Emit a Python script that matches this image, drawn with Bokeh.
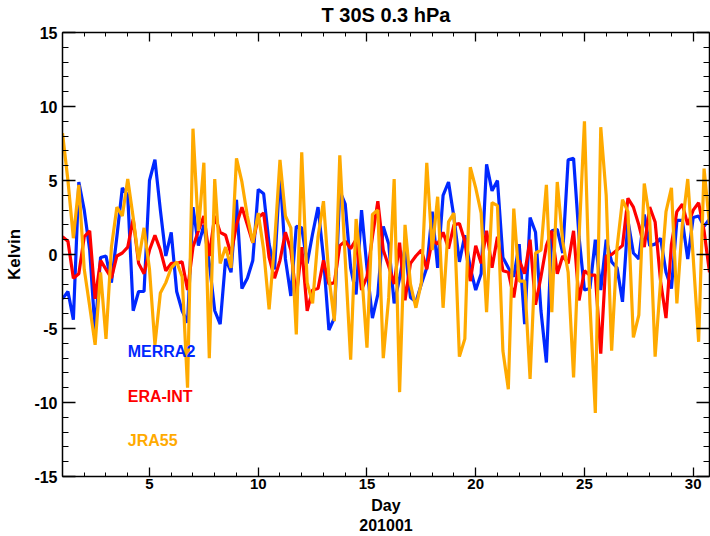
import numpy as np
from bokeh.plotting import figure
from bokeh.models import Range1d, LinearAxis, FixedTicker, Label
from bokeh.embed import file_html
from bokeh.resources import INLINE

# ---- data (6-hourly, January 2010) ----
day_start = 1.0
step = 0.25
n_points = 120
days = day_start + step * np.arange(n_points)

merra2 = [-3.0, -2.5, -4.4, 4.9, 3.0, 0.3, -5.2, -0.2, -0.1, -1.9,
          1.2, 4.5, 4.0, -3.8, -2.5, -2.5, 5.0, 6.4, 3.0, -0.1,
          1.5, -2.5, -3.8, -4.6, 3.2, 0.6, 2.0, -0.6, -3.8, -4.7,
          -0.3, -1.2, 3.7, -2.3, -1.6, -0.4, 4.4, 4.1, 0.7, -1.0,
          5.6, -0.3, -2.8, 1.9, 1.8, -0.6, 1.4, 3.2, -0.2, -5.1,
          -4.3, 4.3, 3.4, -0.9, -2.7, 3.0, -0.9, -4.3, -2.7, 1.9,
          0.7, -3.3, -1.6, 0.5, -2.9, -3.2, -2.0, -0.9, 2.9, -0.9,
          4.0, 4.9, 2.5, -0.5, 1.3, -0.9, -2.4, -1.3, 6.1, 4.3,
          5.0, -0.2, -0.9, -1.5, 0.7, -4.7, 2.5, 1.5, -3.8, -7.3,
          1.6, 1.7, 0.1, 6.4, 6.5, 1.2, -2.4, -2.3, 1.0, -2.4,
          1.0, -0.5, -0.9, -3.2, 2.3, 0.1, -0.3, 2.7, 0.6, 0.7,
          1.1, -1.2, -2.3, 2.3, 2.3, -0.3, 2.5, 2.6, 1.9, 2.4]

era_int = [1.2, 0.9, -1.6, -1.3, 1.2, 1.6, -3.0, -0.4, -1.0, -1.6,
           -0.1, 0.1, 0.5, 2.4, -0.6, -1.3, 0.3, 1.3, 0.3, -1.1,
           -0.6, -0.6, -0.5, -2.4, 0.5, 1.6, 2.6, -0.1, 2.6, 1.5,
           1.3, 0.0, 2.0, 3.2, 2.0, 0.8, 2.5, 2.8, -0.2, -1.6,
           -0.4, 1.5, 0.3, -2.9, 0.5, -3.8, -2.4, -2.3, -0.4, -2.0,
           -1.9, 0.6, 0.9, 0.4, 1.0, -2.4, -1.5, 1.2, 3.6, 0.3,
           -0.8, -2.0, 0.8, -3.1, -0.6, -0.1, 0.3, -1.0, 1.0, 0.7,
           1.5, 0.4, 2.0, 2.1, 0.9, -1.8, 0.6, -0.6, 1.6, -0.9,
           1.2, -1.1, -1.2, -2.9, -0.4, -1.3, 1.0, -3.4, -1.5, 0.6,
           1.6, -1.3, -0.1, -0.6, 1.6, -3.1, -1.1, -1.4, -1.4, -6.7,
           -0.1, 0.0, 0.3, 0.6, 3.8, 3.2, 2.0, 0.5, 3.2, 2.2,
           -1.8, -4.3, 0.7, 2.9, 3.4, 2.0, 3.0, 3.5, 1.6, -1.2]

jra55 = [8.2, 5.0, 1.1, 4.7, -1.0, -3.5, -6.1, -1.2, -5.7, 0.5,
         3.2, 2.6, 5.1, 2.5, -0.4, 1.8, -1.0, -6.1, -2.6, -1.9,
         -0.9, -0.5, -1.5, -9.0, 8.5, 1.6, 6.2, -7.0, 5.1, -0.6,
         0.5, -0.9, 6.5, 4.9, 2.6, 0.8, 2.8, 0.3, -3.7, 0.7,
         6.4, 2.6, 1.8, -5.4, 6.9, -1.9, -3.3, 1.2, 3.6, -1.5,
         -4.5, 6.7, -0.3, -7.1, 2.4, -1.1, -6.3, 2.7, 3.0, -7.0,
         -2.9, 5.1, -9.3, 2.0, -2.0, -3.6, -1.9, 6.2, 0.3, 3.9,
         -3.6, 2.2, 2.8, -6.9, -5.7, 5.9, 4.5, 2.8, -3.9, 3.5,
         3.3, -6.5, -9.1, 3.1, -1.8, -1.8, -8.4, 0.1, 0.3, 4.7,
         -3.9, 4.9, 0.9, -1.2, -8.3, 1.1, 9.0, -3.3, -10.7, 8.6,
         4.0, -6.5, 0.5, 3.7, 2.9, -5.6, -4.1, 4.8, 2.4, -6.9,
         -1.8, 2.9, 4.5, -3.3, 2.0, 5.1, -0.2, -5.9, 5.8, 2.0]

series_names = ["MERRA2", "ERA-INT", "JRA55"]
series_colors = ["#0028ff", "#ff0000", "#ffaa00"]

x_major = [5, 10, 15, 20, 25, 30]
x_minor = list(range(1, 31))
y_major = [-15, -10, -5, 0, 5, 10, 15]
y_minor = list(range(-15, 16))
y_tick_text = {v: str(v) for v in y_major}   # plain hyphen minus, as in the reference
x_title = "Day"
month_text = "201001"

FONT = "Liberation Sans"

p = figure(width=710, height=536,
           x_range=Range1d(1, 30.75), y_range=Range1d(-15, 15),
           output_backend="svg", toolbar_location=None,
           min_border_left=62, min_border_right=1,
           min_border_top=32, min_border_bottom=60,
           x_axis_label=x_title + "\n" + month_text, y_axis_label="Kelvin")

p.title.text = "T 30S 0.3 hPa"
p.title.align = "center"
p.title.standoff = 0
p.title.text_font = FONT
p.title.text_font_size = "20px"
p.title.text_font_style = "bold"
p.title.text_color = "black"

p.xgrid.visible = False
p.ygrid.visible = False
p.outline_line_color = None
p.background_fill_color = "white"
p.border_fill_color = "white"

top_axis = LinearAxis()
right_axis = LinearAxis()
p.add_layout(top_axis, "above")
p.add_layout(right_axis, "right")

# invisible spacer between the top axis and the title (reserves room via outward ticks)
spacer = LinearAxis(ticker=FixedTicker(ticks=x_major, minor_ticks=[]),
                    axis_line_color=None, major_tick_line_color=None,
                    minor_tick_line_color=None, major_tick_in=0, major_tick_out=7,
                    minor_tick_in=0, minor_tick_out=0, major_label_text_color=None,
                    major_label_text_font_size="0px", major_label_standoff=0)
p.add_layout(spacer, "above")

def style(ax, is_x, labels):
    ax.ticker = FixedTicker(ticks=x_major if is_x else y_major,
                            minor_ticks=x_minor if is_x else y_minor)
    ax.axis_line_color = "black"
    ax.axis_line_width = 1.5
    ax.major_tick_line_color = "black"
    ax.minor_tick_line_color = "black"
    ax.major_tick_line_width = 1.3
    ax.minor_tick_line_width = 1.0
    ax.major_tick_out = 0
    ax.minor_tick_out = 0
    ax.major_tick_in = 9 if is_x else 13
    ax.minor_tick_in = 4 if is_x else 6
    ax.major_label_text_font = FONT
    ax.major_label_text_font_style = "bold"
    ax.axis_label_text_font = FONT
    ax.axis_label_text_font_style = "bold"
    ax.axis_label_text_font_size = "16px" if is_x else "17px"
    ax.axis_label_text_color = "black"
    if labels:
        ax.major_label_text_font_size = "15px" if is_x else "16px"
        ax.major_label_text_color = "black"
        ax.major_label_standoff = 2 if is_x else 5
    else:
        ax.major_label_text_font_size = "0px"
        ax.major_label_text_color = None
        ax.major_label_standoff = 0

for ax in [p.below[0], top_axis]:
    style(ax, True, ax is not top_axis)
for ax in [p.left[0], right_axis]:
    style(ax, False, ax is not right_axis)

p.left[0].major_label_overrides = y_tick_text
p.below[0].axis_label_standoff = 5
p.left[0].axis_label_standoff = 7

for vals, col in zip([merra2, era_int, jra55], series_colors):
    p.line(days, vals, line_color=col, line_width=3.2)

label_y = [-6.55, -9.6, -12.6]
for name, col, ly in zip(series_names, series_colors, label_y):
    p.add_layout(Label(x=4.0, y=ly, text=name, text_color=col,
                       text_font=FONT, text_font_size="16px",
                       text_font_style="bold", text_baseline="middle"))

open("out.html", "w").write(file_html(p, INLINE))
